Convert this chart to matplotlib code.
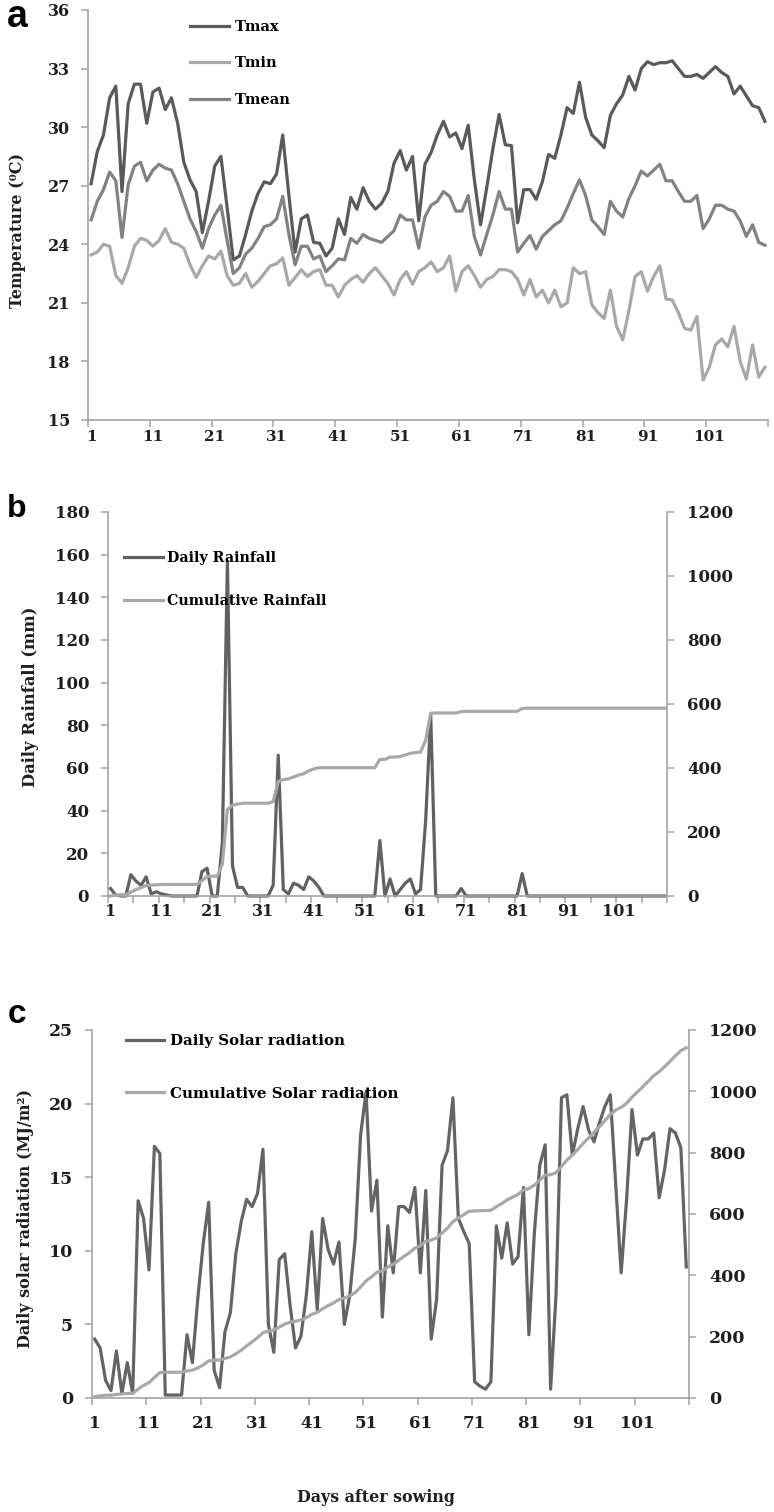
import matplotlib
matplotlib.use('Agg')
import matplotlib.pyplot as plt
import numpy as np
from matplotlib.lines import Line2D

plt.rcParams['font.family'] = ['DejaVu Serif', 'DejaVu Sans']
plt.rcParams['font.weight'] = 'bold'

# ---------------- data ----------------
days = np.arange(1, 111)
xtick_labels = ['1', '11', '21', '31', '41', '51', '61', '71', '81', '91', '101']

tmax = [27.1, 28.75, 29.6, 31.5, 32.1, 26.7, 31.2, 32.2, 32.2, 30.2,
        31.8, 32.0, 30.9, 31.5, 30.2, 28.2, 27.3, 26.7, 24.6, 26.2,
        28.0, 28.5, 25.9, 23.2, 23.4, 24.5, 25.7, 26.6, 27.2, 27.1,
        27.6, 29.6, 26.5, 23.6, 25.3, 25.5, 24.1, 24.05, 23.4, 23.8,
        25.3, 24.5, 26.4, 25.8, 26.9, 26.2, 25.8, 26.1, 26.7, 28.15,
        28.8, 27.8, 28.5, 25.2, 28.1, 28.7, 29.6, 30.3, 29.5, 29.7,
        28.9, 30.1, 27.3, 25.0, 26.9, 28.9, 30.65, 29.1, 29.05, 25.1,
        26.8, 26.8, 26.3, 27.2, 28.6, 28.4, 29.6, 31.0, 30.7, 32.3,
        30.5, 29.6, 29.3, 28.95, 30.6, 31.2, 31.65, 32.6, 31.9, 33.0,
        33.35, 33.2, 33.3, 33.3, 33.4, 33.0, 32.6, 32.6, 32.7, 32.5,
        32.8, 33.1, 32.8, 32.6, 31.7, 32.1, 31.6, 31.1, 31.0, 30.3]

tmin = [23.45, 23.6, 24.0, 23.9, 22.4, 22.0, 22.8, 23.9, 24.3, 24.2,
        23.9, 24.2, 24.8, 24.1, 24.0, 23.8, 22.95, 22.3, 22.9, 23.4,
        23.25, 23.65, 22.4, 21.9, 22.0, 22.5, 21.8, 22.1, 22.5, 22.9,
        23.0, 23.3, 21.9, 22.3, 22.7, 22.35, 22.6, 22.7, 21.9, 21.9,
        21.3, 21.9, 22.2, 22.4, 22.05, 22.5, 22.8, 22.4, 22.0, 21.4,
        22.2, 22.6, 21.95, 22.6, 22.8, 23.1, 22.6, 22.8, 23.4, 21.6,
        22.6, 22.9, 22.4, 21.8, 22.2, 22.35, 22.7, 22.7, 22.6, 22.2,
        21.4, 22.2, 21.3, 21.65, 21.0, 21.65, 20.8, 21.0, 22.8, 22.5,
        22.6, 20.9, 20.5, 20.2, 21.65, 19.8, 19.1, 20.6, 22.35, 22.6,
        21.6, 22.35, 22.9, 21.2, 21.15, 20.5, 19.7, 19.6, 20.3, 17.05,
        17.7, 18.85, 19.15, 18.75, 19.8, 18.0, 17.1, 18.85, 17.2, 17.7]

tmean = [25.25, 26.2, 26.8, 27.7, 27.25, 24.35, 27.05, 28.0, 28.2, 27.25,
         27.8, 28.1, 27.9, 27.8, 27.1, 26.2, 25.3, 24.65, 23.8, 24.8,
         25.5, 26.0, 24.2, 22.5, 22.8, 23.5, 23.8, 24.3, 24.9, 25.0,
         25.3, 26.45, 24.5, 22.95, 23.9, 23.9, 23.25, 23.4, 22.6, 22.9,
         23.25, 23.2, 24.3, 24.05, 24.5, 24.3, 24.2, 24.1, 24.4, 24.7,
         25.5, 25.25, 25.25, 23.8, 25.4, 26.0, 26.2, 26.7, 26.45, 25.7,
         25.7, 26.5, 24.4, 23.45, 24.5, 25.5, 26.7, 25.8, 25.8, 23.6,
         24.05, 24.45, 23.75, 24.4, 24.7, 25.0, 25.2, 25.85, 26.6, 27.3,
         26.5, 25.25, 24.9, 24.5, 26.2, 25.7, 25.4, 26.35, 27.0, 27.75,
         27.5, 27.8, 28.1, 27.25, 27.25, 26.7, 26.2, 26.2, 26.5, 24.8,
         25.3, 26.0, 26.0, 25.8, 25.7, 25.2, 24.4, 25.0, 24.1, 23.95]

rain_daily = [3.5, 0.5, 0, 0, 10, 7, 5, 9, 1, 2,
              1, 0.5, 0, 0, 0, 0, 0, 0, 11.5, 13,
              0, 0, 25, 157, 14, 4, 4, 0, 0, 0,
              0, 0, 5, 66, 3, 1, 6, 5, 3, 9,
              7, 4, 0, 0, 0, 0, 0, 0, 0, 0,
              0, 0, 0, 26, 0, 8, 0, 3, 6, 8,
              1, 3, 35, 85, 0, 0, 0, 0, 0, 3.5,
              0, 0, 0, 0, 0, 0, 0, 0, 0, 0,
              0, 10.5, 0, 0, 0, 0, 0, 0, 0, 0,
              0, 0, 0, 0, 0, 0, 0, 0, 0, 0,
              0, 0, 0, 0, 0, 0, 0, 0, 0, 0]

rain_cum = [0, 3, 4, 4, 12, 20, 26, 33, 34, 35,
            36, 36, 36, 36, 36, 36, 36, 36, 48, 61,
            62, 62, 100, 270, 284, 287, 290, 290, 290, 290,
            290, 290, 295, 358, 364, 366, 372, 378, 382, 391,
            397, 401, 401, 401, 401, 401, 401, 401, 401, 401,
            401, 401, 401, 427, 427, 434, 434, 436, 441, 446,
            448, 450, 486, 571, 572, 572, 572, 572, 572, 576,
            577, 577, 577, 577, 577, 577, 577, 577, 577, 577,
            577, 586, 587, 587, 587, 587, 587, 587, 587, 587,
            587, 587, 587, 587, 587, 587, 587, 587, 587, 587,
            587, 587, 587, 587, 587, 587, 587, 587, 587, 587]

solar_daily = [4.0, 3.4, 1.2, 0.5, 3.2, 0.3, 2.4, 0.3, 13.4, 12.2,
               8.7, 17.1, 16.6, 0.2, 0.2, 0.2, 0.2, 4.3, 2.4, 6.8,
               10.5, 13.3, 1.9, 0.7, 4.5, 5.8, 9.8, 12.0, 13.5, 13.0,
               13.9, 16.9, 5.0, 3.1, 9.4, 9.8, 6.3, 3.4, 4.2, 7.0,
               11.3, 6.0, 12.2, 10.1, 9.1, 10.6, 5.0, 7.0, 10.8, 17.9,
               20.8, 12.7, 14.8, 5.5, 11.7, 8.5, 13.0, 13.0, 12.6, 14.3,
               8.5, 14.1, 4.0, 6.7, 15.8, 16.8, 20.4, 12.2, 11.3, 10.5,
               1.1, 0.8, 0.6, 1.1, 11.7, 9.5, 11.9, 9.1, 9.6, 14.3,
               4.3, 11.2, 15.8, 17.2, 0.6, 7.0, 20.4, 20.6, 16.5, 18.3,
               19.8, 18.2, 17.4, 18.7, 19.8, 20.6, 14.5, 8.5, 13.5, 19.6,
               16.5, 17.6, 17.6, 18.0, 13.6, 15.5, 18.3, 18.0, 17.0, 8.9]

solar_cum = [4, 7, 9, 9, 12, 13, 15, 15, 29, 41,
             50, 67, 83, 84, 84, 84, 84, 88, 91, 98,
             108, 121, 123, 124, 129, 134, 144, 156, 170, 183,
             197, 213, 218, 222, 231, 241, 247, 250, 255, 262,
             273, 279, 291, 301, 310, 321, 326, 333, 344, 362,
             382, 395, 410, 415, 427, 436, 449, 462, 474, 489,
             497, 511, 515, 522, 538, 554, 575, 587, 598, 609,
             610, 611, 611, 612, 624, 634, 646, 655, 664, 679,
             683, 694, 710, 727, 728, 735, 755, 776, 792, 810,
             830, 848, 866, 885, 904, 925, 939, 948, 961, 981,
             998, 1015, 1033, 1051, 1064, 1080, 1098, 1116, 1133, 1142]

# ---------------- figure ----------------
W, H = 774, 1512
fig = plt.figure(figsize=(W / 100, H / 100), dpi=100)


def rect(l, t, r, b):
    return [l / W, 1 - b / H, (r - l) / W, (b - t) / H]


SPINE = '#a3a3a3'
TXT = '#1f1f1f'
LW = 2.3
C_DARK = '#5a5a5a'
C_MID = '#828282'
C_LIGHT = '#a8a8a8'


def style_x(ax, step, size, pad):
    ax.set_xlim(0.5, 110.5)
    ax.set_xticks(np.arange(1, 102, 10))
    ax.set_xticklabels(xtick_labels)
    ax.set_xticks(np.arange(0.5, 111, step), minor=True)
    ax.tick_params(axis='x', which='major', length=0, pad=pad,
                   labelsize=size, labelcolor=TXT)
    ax.tick_params(axis='x', which='minor', length=5, width=1.1,
                   color=SPINE, direction='out')


def style_y(ax, size, pad):
    ax.tick_params(axis='y', which='major', length=5, width=1.1,
                   color=SPINE, direction='out', pad=pad,
                   labelsize=size, labelcolor=TXT)


def spines(ax, show):
    for k, s in ax.spines.items():
        if k in show:
            s.set_color(SPINE)
            s.set_linewidth(1.2)
        else:
            s.set_visible(False)


# ---------------- panel a ----------------
ax1 = fig.add_axes(rect(88, 10, 768, 420))
l1, = ax1.plot(days, tmax, color=C_DARK, lw=LW)
l2, = ax1.plot(days, tmin, color=C_LIGHT, lw=LW)
l3, = ax1.plot(days, tmean, color=C_MID, lw=LW)
ax1.set_ylim(15, 36)
ax1.set_yticks(np.arange(15, 37, 3))
style_x(ax1, 10, 11, 7)
style_y(ax1, 11.5, 8)
spines(ax1, ['left', 'bottom'])
ax1.legend([l1, l2, l3], ['Tmax', 'Tmin', 'Tmean'], loc='upper left',
           bbox_to_anchor=(190 / W, 1 - 20 / H), bbox_transform=fig.transFigure,
           frameon=False, borderpad=0, borderaxespad=0, handlelength=2.7,
           handletextpad=0.4, labelspacing=1.54, prop={'size': 10.5, 'weight': 'bold'})
fig.text(18 / W, 1 - 230 / H, 'Temperature (\u2070C)', rotation=90,
         ha='center', va='center', fontsize=11.5, fontweight='bold', color=TXT)
fig.text(7 / W, 1 - 27 / H, 'a', fontsize=27, fontweight='bold',
         family='Liberation Sans', color='black', ha='left', va='baseline')

# ---------------- panel b ----------------
ax2 = fig.add_axes(rect(108, 512, 667, 896))
ld, = ax2.plot(days, rain_daily, color='#616161', lw=LW, clip_on=False)
ax2.set_ylim(0, 180)
ax2.set_yticks(np.arange(0, 181, 20))
style_x(ax2, 5, 11.5, 5)
style_y(ax2, 12, 8.5)
spines(ax2, ['left', 'bottom'])
ax2r = ax2.twinx()
lc, = ax2r.plot(days, rain_cum, color=C_LIGHT, lw=LW, clip_on=False)
ax2r.set_ylim(0, 1200)
ax2r.set_yticks(np.arange(0, 1201, 200))
style_y(ax2r, 12, 9.5)
spines(ax2r, ['right'])
ax2r.legend([ld, lc], ['Daily Rainfall', 'Cumulative Rainfall'], loc='upper left',
            bbox_to_anchor=(124 / W, 1 - 551 / H), bbox_transform=fig.transFigure,
            frameon=False, borderpad=0, borderaxespad=0, handlelength=2.7,
            handletextpad=0.3, labelspacing=2.0, prop={'size': 10.3, 'weight': 'bold'})
fig.text(31 / W, 1 - 697 / H, 'Daily Rainfall (mm)', rotation=90,
         ha='center', va='center', fontsize=11.8, fontweight='bold', color=TXT)
fig.text(7 / W, 1 - 517 / H, 'b', fontsize=23, fontweight='bold',
         family='Liberation Sans', color='black', ha='left', va='baseline')

# ---------------- panel c ----------------
ax3 = fig.add_axes(rect(92, 1030, 689, 1398))
sd, = ax3.plot(days, solar_daily, color='#646464', lw=LW, clip_on=False)
ax3.set_ylim(0, 25)
ax3.set_yticks(np.arange(0, 26, 5))
style_x(ax3, 10, 12, 12)
style_y(ax3, 12.5, 8.5)
spines(ax3, ['left', 'bottom'])
ax3r = ax3.twinx()
sc, = ax3r.plot(days, solar_cum, color=C_LIGHT, lw=LW, clip_on=False)
ax3r.set_ylim(0, 1200)
ax3r.set_yticks(np.arange(0, 1201, 200))
style_y(ax3r, 12.5, 9.5)
spines(ax3r, ['right'])
ax3r.legend([sd, sc], ['Daily Solar radiation', 'Cumulative Solar radiation'],
            loc='upper left', bbox_to_anchor=(126 / W, 1 - 1034 / H),
            bbox_transform=fig.transFigure, frameon=False, borderpad=0,
            borderaxespad=0, handlelength=2.5, handletextpad=0.4, labelspacing=2.57,
            prop={'size': 10.8, 'weight': 'bold'})
fig.text(26 / W, 1 - 1219 / H, 'Daily solar radiation (MJ/m\u00b2)', rotation=90,
         ha='center', va='center', fontsize=11.5, fontweight='bold', color=TXT)
fig.text(376 / W, 1 - 1497 / H, 'Days after sowing', ha='center', va='center',
         fontsize=11.4, fontweight='bold', color=TXT)
fig.text(8 / W, 1 - 1023 / H, 'c', fontsize=24, fontweight='bold',
         family='Liberation Sans', color='black', ha='left', va='baseline')

fig.savefig('out.png', dpi=100)
